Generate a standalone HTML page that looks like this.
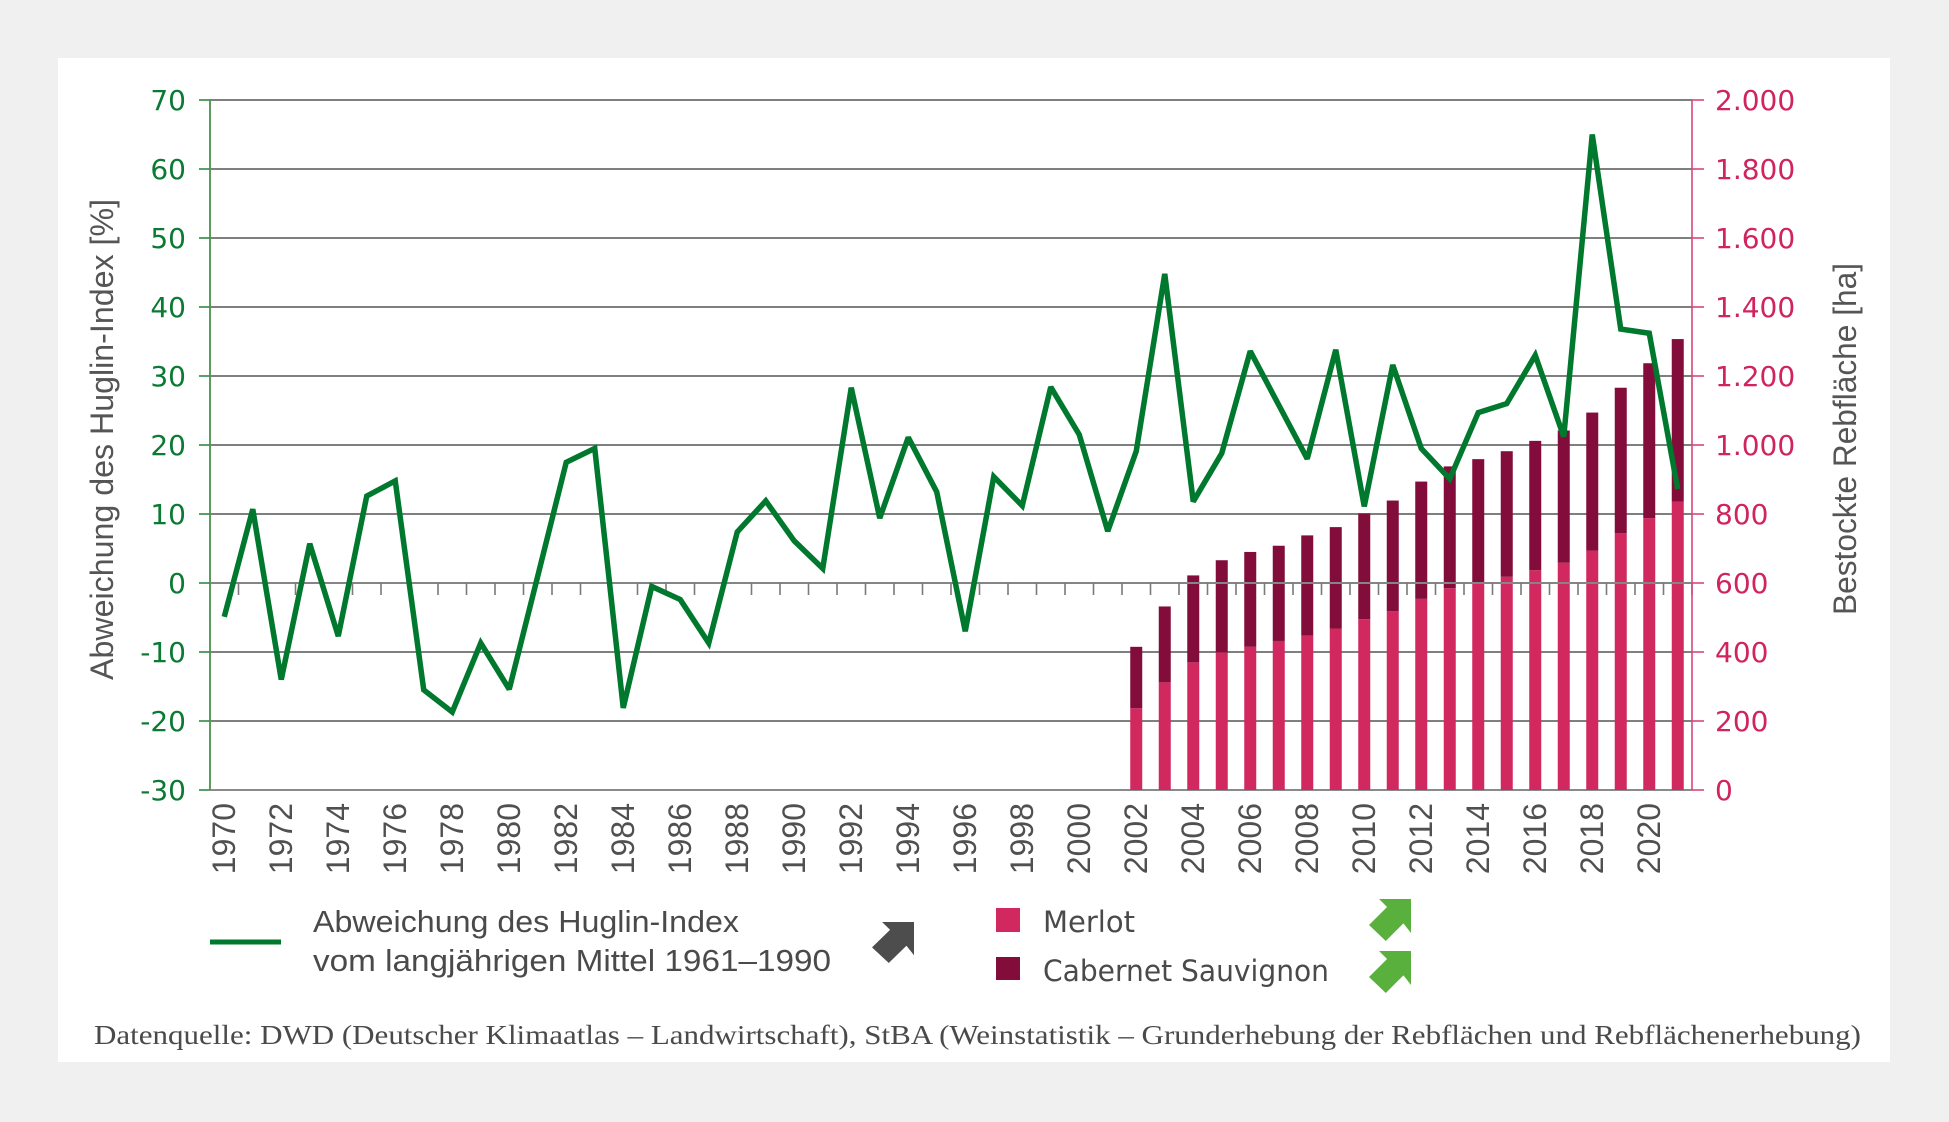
<!DOCTYPE html>
<html>
<head>
<meta charset="utf-8">
<style>
  html,body{margin:0;padding:0;background:#f0f0f0;}
  body{width:1949px;height:1122px;overflow:hidden;}
  svg{display:block;}
</style>
</head>
<body>
<svg width="1949" height="1122" viewBox="0 0 1949 1122" xmlns="http://www.w3.org/2000/svg">
  <rect x="0" y="0" width="1949" height="1122" fill="#f0f0f0"/>
  <rect x="58" y="58" width="1832" height="1004" fill="#ffffff"/>

  <!-- gridlines -->
  <g stroke="#555" stroke-width="1.4" fill="none">
    <line x1="210" y1="100" x2="1692" y2="100"/>
    <line x1="210" y1="169" x2="1692" y2="169"/>
    <line x1="210" y1="238" x2="1692" y2="238"/>
    <line x1="210" y1="307" x2="1692" y2="307"/>
    <line x1="210" y1="376" x2="1692" y2="376"/>
    <line x1="210" y1="445" x2="1692" y2="445"/>
    <line x1="210" y1="514" x2="1692" y2="514"/>
    <line x1="210" y1="652" x2="1692" y2="652"/>
    <line x1="210" y1="721" x2="1692" y2="721"/>
  </g>
  <line x1="210" y1="790" x2="1692" y2="790" stroke="#8a8a8a" stroke-width="2"/>

  <!-- bars -->
  <g>
    <g fill="#d1295f">
      <rect x="1130.25" y="708.23" width="12" height="81.77"/>
      <rect x="1158.75" y="682.36" width="12" height="107.64"/>
      <rect x="1187.25" y="662.35" width="12" height="127.65"/>
      <rect x="1215.75" y="652.34" width="12" height="137.66"/>
      <rect x="1244.25" y="646.82" width="12" height="143.18"/>
      <rect x="1272.75" y="640.96" width="12" height="149.04"/>
      <rect x="1301.25" y="635.44" width="12" height="154.56"/>
      <rect x="1329.75" y="628.54" width="12" height="161.46"/>
      <rect x="1358.25" y="619.22" width="12" height="170.78"/>
      <rect x="1386.75" y="611.29" width="12" height="178.71"/>
      <rect x="1415.25" y="598.87" width="12" height="191.13"/>
      <rect x="1443.75" y="588.17" width="12" height="201.83"/>
      <rect x="1472.25" y="583.34" width="12" height="206.66"/>
      <rect x="1500.75" y="576.79" width="12" height="213.21"/>
      <rect x="1529.25" y="570.23" width="12" height="219.77"/>
      <rect x="1557.75" y="562.64" width="12" height="227.36"/>
      <rect x="1586.25" y="550.57" width="12" height="239.43"/>
      <rect x="1614.75" y="533.32" width="12" height="256.68"/>
      <rect x="1643.25" y="518.14" width="12" height="271.86"/>
      <rect x="1671.75" y="501.58" width="12" height="288.42"/>
    </g>
    <g fill="#820d3a">
      <rect x="1130.25" y="646.82" width="12" height="61.41"/>
      <rect x="1158.75" y="606.46" width="12" height="75.9"/>
      <rect x="1187.25" y="575.41" width="12" height="86.94"/>
      <rect x="1215.75" y="560.23" width="12" height="92.11"/>
      <rect x="1244.25" y="551.95" width="12" height="94.87"/>
      <rect x="1272.75" y="545.74" width="12" height="95.22"/>
      <rect x="1301.25" y="535.39" width="12" height="100.05"/>
      <rect x="1329.75" y="527.11" width="12" height="101.43"/>
      <rect x="1358.25" y="513.31" width="12" height="105.91"/>
      <rect x="1386.75" y="500.54" width="12" height="110.75"/>
      <rect x="1415.25" y="481.57" width="12" height="117.3"/>
      <rect x="1443.75" y="466.39" width="12" height="121.78"/>
      <rect x="1472.25" y="459.14" width="12" height="124.2"/>
      <rect x="1500.75" y="451.21" width="12" height="125.58"/>
      <rect x="1529.25" y="440.86" width="12" height="129.37"/>
      <rect x="1557.75" y="430.51" width="12" height="132.13"/>
      <rect x="1586.25" y="412.57" width="12" height="138"/>
      <rect x="1614.75" y="387.73" width="12" height="145.59"/>
      <rect x="1643.25" y="363.23" width="12" height="154.91"/>
      <rect x="1671.75" y="339.08" width="12" height="162.5"/>
    </g>
  </g>

  <!-- zero axis with ticks -->
  <line x1="210" y1="583" x2="1692" y2="583" stroke="#858585" stroke-width="2"/>
  <g stroke="#7a7a7a" stroke-width="1.6">
    <line x1="210" y1="583" x2="210" y2="595"/>
    <line x1="238.5" y1="583" x2="238.5" y2="595"/>
    <line x1="267" y1="583" x2="267" y2="595"/>
    <line x1="295.5" y1="583" x2="295.5" y2="595"/>
    <line x1="324" y1="583" x2="324" y2="595"/>
    <line x1="352.5" y1="583" x2="352.5" y2="595"/>
    <line x1="381" y1="583" x2="381" y2="595"/>
    <line x1="409.5" y1="583" x2="409.5" y2="595"/>
    <line x1="438" y1="583" x2="438" y2="595"/>
    <line x1="466.5" y1="583" x2="466.5" y2="595"/>
    <line x1="495" y1="583" x2="495" y2="595"/>
    <line x1="523.5" y1="583" x2="523.5" y2="595"/>
    <line x1="552" y1="583" x2="552" y2="595"/>
    <line x1="580.5" y1="583" x2="580.5" y2="595"/>
    <line x1="609" y1="583" x2="609" y2="595"/>
    <line x1="637.5" y1="583" x2="637.5" y2="595"/>
    <line x1="666" y1="583" x2="666" y2="595"/>
    <line x1="694.5" y1="583" x2="694.5" y2="595"/>
    <line x1="723" y1="583" x2="723" y2="595"/>
    <line x1="751.5" y1="583" x2="751.5" y2="595"/>
    <line x1="780" y1="583" x2="780" y2="595"/>
    <line x1="808.5" y1="583" x2="808.5" y2="595"/>
    <line x1="837" y1="583" x2="837" y2="595"/>
    <line x1="865.5" y1="583" x2="865.5" y2="595"/>
    <line x1="894" y1="583" x2="894" y2="595"/>
    <line x1="922.5" y1="583" x2="922.5" y2="595"/>
    <line x1="951" y1="583" x2="951" y2="595"/>
    <line x1="979.5" y1="583" x2="979.5" y2="595"/>
    <line x1="1008" y1="583" x2="1008" y2="595"/>
    <line x1="1036.5" y1="583" x2="1036.5" y2="595"/>
    <line x1="1065" y1="583" x2="1065" y2="595"/>
    <line x1="1093.5" y1="583" x2="1093.5" y2="595"/>
    <line x1="1122" y1="583" x2="1122" y2="595"/>
    <line x1="1150.5" y1="583" x2="1150.5" y2="595"/>
    <line x1="1179" y1="583" x2="1179" y2="595"/>
    <line x1="1207.5" y1="583" x2="1207.5" y2="595"/>
    <line x1="1236" y1="583" x2="1236" y2="595"/>
    <line x1="1264.5" y1="583" x2="1264.5" y2="595"/>
    <line x1="1293" y1="583" x2="1293" y2="595"/>
    <line x1="1321.5" y1="583" x2="1321.5" y2="595"/>
    <line x1="1350" y1="583" x2="1350" y2="595"/>
    <line x1="1378.5" y1="583" x2="1378.5" y2="595"/>
    <line x1="1407" y1="583" x2="1407" y2="595"/>
    <line x1="1435.5" y1="583" x2="1435.5" y2="595"/>
    <line x1="1464" y1="583" x2="1464" y2="595"/>
    <line x1="1492.5" y1="583" x2="1492.5" y2="595"/>
    <line x1="1521" y1="583" x2="1521" y2="595"/>
    <line x1="1549.5" y1="583" x2="1549.5" y2="595"/>
    <line x1="1578" y1="583" x2="1578" y2="595"/>
    <line x1="1606.5" y1="583" x2="1606.5" y2="595"/>
    <line x1="1635" y1="583" x2="1635" y2="595"/>
    <line x1="1663.5" y1="583" x2="1663.5" y2="595"/>
    <line x1="1692" y1="583" x2="1692" y2="595"/>
  </g>

  <!-- left axis -->
  <line x1="210" y1="100" x2="210" y2="790" stroke="#5a9c5e" stroke-width="2"/>
  <g stroke="#2f8a40" stroke-width="1.6">
    <line x1="199" y1="100" x2="210" y2="100"/>
    <line x1="199" y1="169" x2="210" y2="169"/>
    <line x1="199" y1="238" x2="210" y2="238"/>
    <line x1="199" y1="307" x2="210" y2="307"/>
    <line x1="199" y1="376" x2="210" y2="376"/>
    <line x1="199" y1="445" x2="210" y2="445"/>
    <line x1="199" y1="514" x2="210" y2="514"/>
    <line x1="199" y1="583" x2="210" y2="583"/>
    <line x1="199" y1="652" x2="210" y2="652"/>
    <line x1="199" y1="721" x2="210" y2="721"/>
    <line x1="199" y1="790" x2="210" y2="790"/>
  </g>
  <!-- right axis -->
  <line x1="1692" y1="100" x2="1692" y2="790" stroke="#d9477c" stroke-width="1.6"/>
  <g stroke="#d9477c" stroke-width="1.6">
    <line x1="1692" y1="100" x2="1704" y2="100"/>
    <line x1="1692" y1="169" x2="1704" y2="169"/>
    <line x1="1692" y1="238" x2="1704" y2="238"/>
    <line x1="1692" y1="307" x2="1704" y2="307"/>
    <line x1="1692" y1="376" x2="1704" y2="376"/>
    <line x1="1692" y1="445" x2="1704" y2="445"/>
    <line x1="1692" y1="514" x2="1704" y2="514"/>
    <line x1="1692" y1="583" x2="1704" y2="583"/>
    <line x1="1692" y1="652" x2="1704" y2="652"/>
    <line x1="1692" y1="721" x2="1704" y2="721"/>
    <line x1="1692" y1="790" x2="1704" y2="790"/>
  </g>

  <!-- green line -->
  <polyline fill="none" stroke="#00782d" stroke-width="5.5" stroke-linejoin="miter" stroke-miterlimit="2.5" stroke-linecap="butt"
    points="224.25,616.8 252.75,509.17 281.25,679.6 309.75,543.67 338.25,636.13 366.75,496.06 395.25,480.88 423.75,689.95 452.25,712.03 480.75,643.03 509.25,689.26 537.75,576.1 566.25,462.25 594.75,448.45 623.25,707.89 651.75,586.45 680.25,599.56 708.75,643.03 737.25,531.94 765.75,500.89 794.25,540.91 822.75,568.51 851.25,387.73 879.75,518.14 908.25,437.41 936.75,491.92 965.25,631.3 993.75,476.74 1022.25,505.72 1050.75,387.04 1079.25,434.65 1107.75,531.25 1136.25,451.21 1164.75,273.88 1193.25,501.58 1221.75,453.28 1250.25,351.16 1278.75,404.98 1307.25,458.8 1335.75,349.78 1364.25,506.41 1392.75,364.96 1421.25,448.45 1449.75,478.81 1478.25,412.57 1506.75,403.6 1535.25,355.3 1563.75,436.72 1592.25,134.5 1620.75,329.08 1649.25,333.22 1677.75,489.16"/>

  <!-- left tick labels -->
  <g font-family="'DejaVu Sans', 'Liberation Sans', sans-serif" font-size="28" fill="#0b7a33" text-anchor="end">
    <text x="186" y="110">70</text>
    <text x="186" y="179">60</text>
    <text x="186" y="248">50</text>
    <text x="186" y="317">40</text>
    <text x="186" y="386">30</text>
    <text x="186" y="455">20</text>
    <text x="186" y="524">10</text>
    <text x="186" y="593">0</text>
    <text x="186" y="662">-10</text>
    <text x="186" y="731">-20</text>
    <text x="186" y="800">-30</text>
  </g>
  <!-- right tick labels -->
  <g font-family="'DejaVu Sans', 'Liberation Sans', sans-serif" font-size="28" fill="#d1245e" text-anchor="start">
    <text x="1715" y="110">2.000</text>
    <text x="1715" y="179">1.800</text>
    <text x="1715" y="248">1.600</text>
    <text x="1715" y="317">1.400</text>
    <text x="1715" y="386">1.200</text>
    <text x="1715" y="455">1.000</text>
    <text x="1715" y="524">800</text>
    <text x="1715" y="593">600</text>
    <text x="1715" y="662">400</text>
    <text x="1715" y="731">200</text>
    <text x="1715" y="800">0</text>
  </g>

  <!-- x labels -->
  <g font-family="'Liberation Sans', sans-serif" font-size="32" fill="#505050" text-anchor="end">
    <text transform="translate(234.75,803) rotate(-90)">1970</text>
    <text transform="translate(291.75,803) rotate(-90)">1972</text>
    <text transform="translate(348.75,803) rotate(-90)">1974</text>
    <text transform="translate(405.75,803) rotate(-90)">1976</text>
    <text transform="translate(462.75,803) rotate(-90)">1978</text>
    <text transform="translate(519.75,803) rotate(-90)">1980</text>
    <text transform="translate(576.75,803) rotate(-90)">1982</text>
    <text transform="translate(633.75,803) rotate(-90)">1984</text>
    <text transform="translate(690.75,803) rotate(-90)">1986</text>
    <text transform="translate(747.75,803) rotate(-90)">1988</text>
    <text transform="translate(804.75,803) rotate(-90)">1990</text>
    <text transform="translate(861.75,803) rotate(-90)">1992</text>
    <text transform="translate(918.75,803) rotate(-90)">1994</text>
    <text transform="translate(975.75,803) rotate(-90)">1996</text>
    <text transform="translate(1032.75,803) rotate(-90)">1998</text>
    <text transform="translate(1089.75,803) rotate(-90)">2000</text>
    <text transform="translate(1146.75,803) rotate(-90)">2002</text>
    <text transform="translate(1203.75,803) rotate(-90)">2004</text>
    <text transform="translate(1260.75,803) rotate(-90)">2006</text>
    <text transform="translate(1317.75,803) rotate(-90)">2008</text>
    <text transform="translate(1374.75,803) rotate(-90)">2010</text>
    <text transform="translate(1431.75,803) rotate(-90)">2012</text>
    <text transform="translate(1488.75,803) rotate(-90)">2014</text>
    <text transform="translate(1545.75,803) rotate(-90)">2016</text>
    <text transform="translate(1602.75,803) rotate(-90)">2018</text>
    <text transform="translate(1659.75,803) rotate(-90)">2020</text>
  </g>

  <!-- axis titles -->
  <text transform="translate(113,439.5) rotate(-90)" font-family="'Liberation Sans', sans-serif" font-size="32" fill="#555555" text-anchor="middle" textLength="481" lengthAdjust="spacingAndGlyphs">Abweichung des Huglin-Index [%]</text>
  <text transform="translate(1856,439) rotate(-90)" font-family="'Liberation Sans', sans-serif" font-size="32" fill="#555555" text-anchor="middle" textLength="352" lengthAdjust="spacingAndGlyphs">Bestockte Rebfläche [ha]</text>

  <!-- legend -->
  <line x1="210" y1="942" x2="281" y2="942" stroke="#00782d" stroke-width="5"/>
  <g font-family="'Liberation Sans', sans-serif" font-size="31" fill="#4a4a4a">
    <text x="313" y="932" textLength="426" lengthAdjust="spacingAndGlyphs">Abweichung des Huglin-Index</text>
    <text x="313" y="971" textLength="518" lengthAdjust="spacingAndGlyphs">vom langjährigen Mittel 1961–1990</text>
  </g>
  <!-- dark arrow -->
  <polygon transform="translate(872,922) scale(42,41)" fill="#4d4d4d"
    points="0.24,0 1,0 1,0.81 0.82,0.58 0.40,1 0,0.62 0.43,0.19"/>

  <rect x="996" y="908" width="24" height="24" fill="#d1295f"/>
  <rect x="996" y="957" width="24" height="23" fill="#820d3a"/>
  <g font-family="'DejaVu Sans', 'Liberation Sans', sans-serif" font-size="29" fill="#4a4a4a">
    <text x="1043" y="932" textLength="92" lengthAdjust="spacingAndGlyphs">Merlot</text>
    <text x="1043" y="981" textLength="286" lengthAdjust="spacingAndGlyphs">Cabernet Sauvignon</text>
  </g>
  <polygon transform="translate(1369,899) scale(42,42)" fill="#5ab03c"
    points="0.24,0 1,0 1,0.81 0.82,0.58 0.40,1 0,0.62 0.43,0.19"/>
  <polygon transform="translate(1369,951) scale(42,42)" fill="#5ab03c"
    points="0.24,0 1,0 1,0.81 0.82,0.58 0.40,1 0,0.62 0.43,0.19"/>

  <!-- source -->
  <text x="94" y="1044" font-family="'Liberation Serif', serif" font-size="27" fill="#4a4a4a" textLength="1767" lengthAdjust="spacingAndGlyphs">Datenquelle: DWD (Deutscher Klimaatlas – Landwirtschaft), StBA (Weinstatistik – Grunderhebung der Rebflächen und Rebflächenerhebung)</text>
</svg>
</body>
</html>
